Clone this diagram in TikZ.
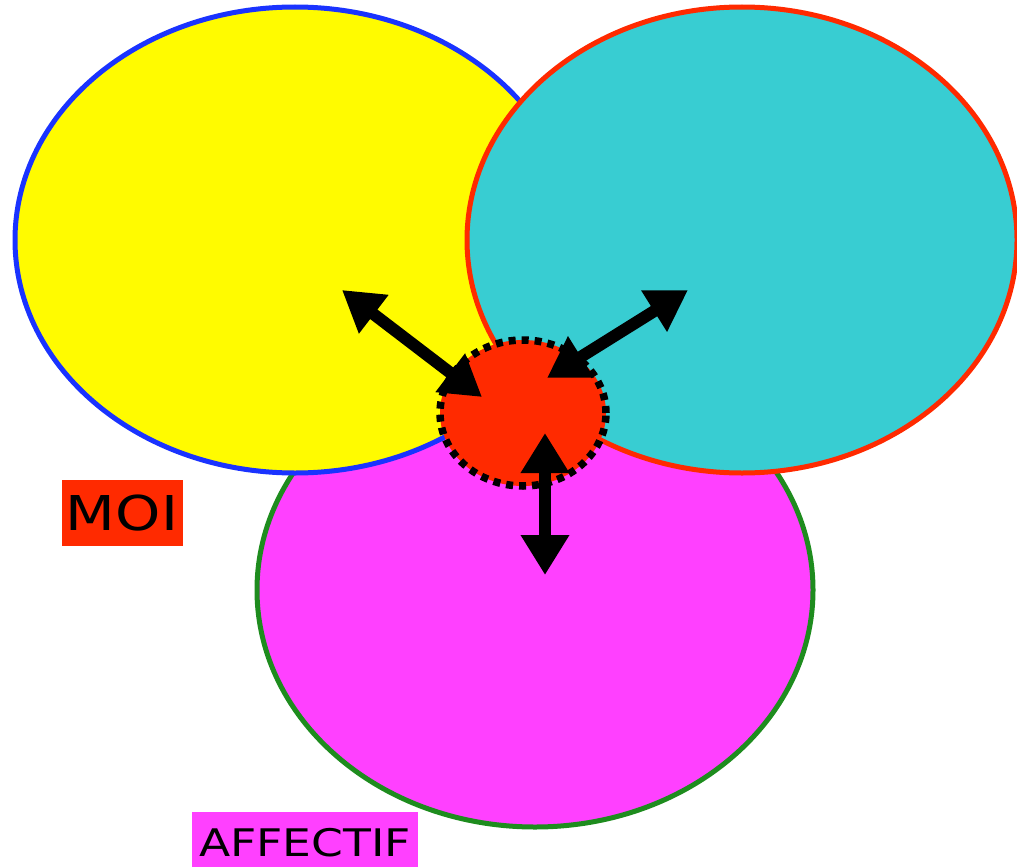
\documentclass[tikz,border=0pt]{standalone}
\usepackage{fontspec}
\setmainfont[FakeStretch=1.2]{DejaVu Sans}
\usetikzlibrary{shapes.geometric,arrows.meta}

\definecolor{jaune}{RGB}{255,251,0}
\definecolor{turquoise}{RGB}{56,205,210}
\definecolor{rose}{RGB}{255,64,255}
\definecolor{rouge}{RGB}{255,42,0}
\definecolor{bleu}{RGB}{26,51,255}
\definecolor{vert}{RGB}{30,140,30}

\begin{document}
\begin{tikzpicture}[x=1pt, y=-1pt, >={Triangle[length=40pt,width=46pt]}]
  % Frame
  \useasboundingbox (0,0) rectangle (1017,867);

  % Spheres
  \node[ellipse, draw=vert, fill=rose, line width=5pt,
        minimum width=556pt, minimum height=474pt] (affectif) at (535,590) {};
  \node[ellipse, draw=bleu, fill=jaune, line width=5pt,
        minimum width=560pt, minimum height=466pt] (gauche) at (295,240) {};
  \node[ellipse, draw=rouge, fill=turquoise, line width=5pt,
        minimum width=550pt, minimum height=466pt] (droite) at (742,240) {};

  % Centre
  \node[ellipse, draw=black, fill=rouge, line width=7.5pt,
        dash pattern=on 7pt off 6pt,
        minimum width=166pt, minimum height=146pt] (moi) at (523,413) {};

  % Arrow ends
  \coordinate (g1) at (482,397);
  \coordinate (g2) at (342,290);
  \coordinate (d1) at (547,378);
  \coordinate (d2) at (688,290);
  \coordinate (b1) at (545,433);
  \coordinate (b2) at (545,575);

  % Arrows
  \draw[<->, line width=12pt] (g1) -- (g2);
  \draw[<->, line width=12pt] (d1) -- (d2);
  \draw[<->, line width=12pt] (b1) -- (b2);

  % Labels
  \node[fill=rouge, minimum width=121pt, minimum height=66pt,
        font=\fontsize{48}{50}\selectfont] (lmoi) at (122,513) {MOI};
  \node[fill=rose, minimum width=226pt, minimum height=62pt,
        font=\fontsize{38}{40}\selectfont] (laffectif) at (305,843) {AFFECTIF};
\end{tikzpicture}
\end{document}
